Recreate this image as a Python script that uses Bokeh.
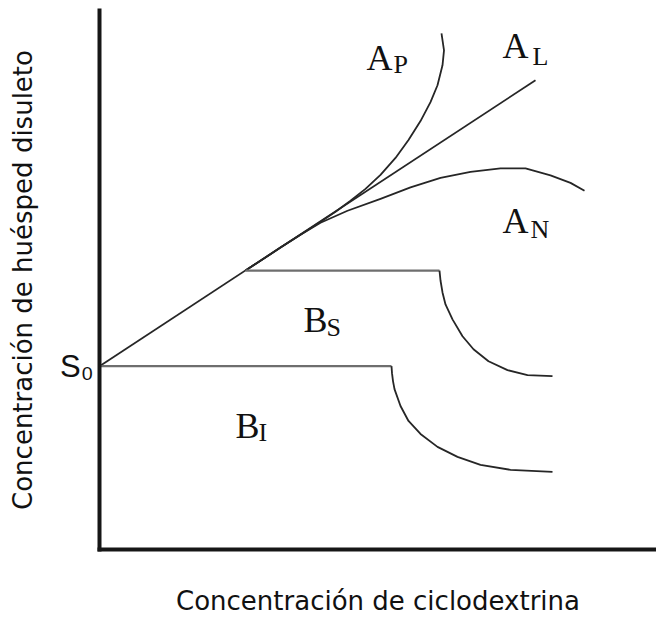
from bokeh.plotting import figure
from bokeh.models import Range1d, FixedTicker, ColumnDataSource
from bokeh.core.properties import value
from bokeh.embed import file_html
from bokeh.resources import INLINE

# ---- data (schematic phase-solubility diagram, arbitrary units) ----
S0 = 184  # intrinsic solubility
S0_label = "S\u2080"

AL_x = [0, 436]
AL_y = [184, 471]

AP_x = [146, 181, 201, 221, 236, 251, 266, 281, 296, 309, 321, 331, 338, 343, 344.5, 342]
AP_y = [280, 303, 316, 329, 339, 350, 362, 376, 393, 411, 430, 449, 466, 486, 501, 518]

AN_x = [146, 181, 201, 221, 248, 281, 311, 341, 371, 401, 426, 451, 471, 485]
AN_y = [280, 303, 316, 328, 340, 352, 363.5, 373, 379, 382.5, 382.5, 375.5, 368, 360]

BS_x = [146, 340, 341, 343, 346, 353, 363, 374, 389, 408, 428, 453]
BS_y = [280, 280, 270, 258, 246, 231, 214, 201, 189, 180, 175, 174]

BI_x = [0, 292, 292.5, 293.5, 295, 301, 309, 321, 338, 358, 381, 411, 453]
BI_y = [184, 184, 177, 169, 161, 144, 129, 116, 103, 93, 85, 80, 78]

label_main = ["A", "A", "A", "B", "B"]
label_sub = ["P", "L", "N", "S", "I"]
label_x = [267, 403, 403, 204, 136]
label_y = [493, 505, 330, 230, 124]
sub_dx = [27, 30, 28, 23, 23]
sub_dy = [-6, -10, -9, -7, -7]

x_title = "Concentración de ciclodextrina"
y_title = "Concentración de huésped disuleto"

# ---- figure ----
p = figure(width=656, height=618, x_range=Range1d(0, 557), y_range=Range1d(0, 541),
           output_backend="svg", toolbar_location=None,
           min_border_left=99, min_border_right=0, min_border_top=10, min_border_bottom=67)
p.outline_line_color = None
p.xgrid.visible = False
p.ygrid.visible = False
p.background_fill_color = "white"
p.border_fill_color = "white"

for ax in (p.xaxis[0], p.yaxis[0]):
    ax.major_tick_out = 0
    ax.major_tick_in = 0
    ax.minor_tick_out = 0
    ax.minor_tick_in = 0
    ax.axis_line_width = 4
    ax.axis_line_color = "#161616"
    ax.axis_line_cap = "square"
    ax.axis_label_text_font = "DejaVu Sans"
    ax.axis_label_text_font_size = "26px"
    ax.axis_label_text_font_style = "normal"
    ax.axis_label_text_color = "#111111"

p.xaxis.ticker = FixedTicker(ticks=[])
p.xaxis.major_label_standoff = 0
p.xaxis.axis_label = x_title
p.xaxis.axis_label_standoff = 36

p.yaxis.ticker = FixedTicker(ticks=[S0])
p.yaxis.major_label_overrides = {S0: S0_label}
p.yaxis.major_label_standoff = 6
p.yaxis.major_label_text_font = "Liberation Sans"
p.yaxis.major_label_text_font_size = "31px"
p.yaxis.major_label_text_color = "#111111"
p.yaxis.axis_label = y_title
p.yaxis.axis_label_standoff = 19

curve_col = "#262626"
flat_col = "#6e6e6e"

p.line(AL_x, AL_y, line_color=curve_col, line_width=1.8, line_join="round")
p.line(AP_x, AP_y, line_color=curve_col, line_width=1.8, line_join="round")
p.line(AN_x, AN_y, line_color=curve_col, line_width=1.8, line_join="round")

p.line(BS_x[:2], BS_y[:2], line_color=flat_col, line_width=2.2)
p.line(BS_x[1:], BS_y[1:], line_color=curve_col, line_width=1.8, line_join="round")
p.line(BI_x[:2], BI_y[:2], line_color=flat_col, line_width=2.2)
p.line(BI_x[1:], BI_y[1:], line_color=curve_col, line_width=1.8, line_join="round")

src = ColumnDataSource(dict(
    x=label_x, y=label_y, t=label_main,
    sx=[a + b for a, b in zip(label_x, sub_dx)],
    sy=[a + b for a, b in zip(label_y, sub_dy)],
    st=label_sub,
))
p.text(x="x", y="y", text="t", source=src, text_font=value("Liberation Serif"),
       text_font_size="36px", text_align="left", text_baseline="alphabetic",
       text_color="#111111")
p.text(x="sx", y="sy", text="st", source=src, text_font=value("Liberation Serif"),
       text_font_size="26px", text_align="left", text_baseline="alphabetic",
       text_color="#111111")

open("out.html", "w").write(file_html(p, INLINE))
